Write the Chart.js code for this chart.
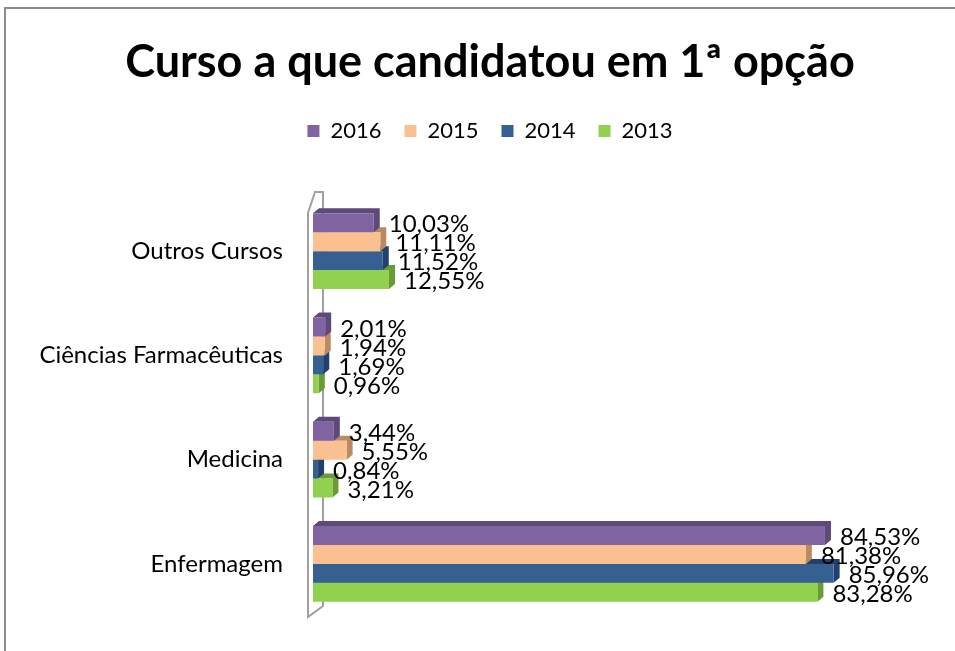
<!DOCTYPE html>
<html>
<head>
<meta charset="utf-8">
<script src="https://cdn.jsdelivr.net/npm/chart.js@4"></script>
<style>
  html, body { margin: 0; padding: 0; background: #fff; }
  #wrap { width: 955px; height: 651px; }
</style>
</head>
<body>
<div id="wrap"><canvas id="myChart" width="955" height="651"></canvas></div>
<script>
var cursos = ["Outros Cursos", "Ciências Farmacêuticas", "Medicina", "Enfermagem"];
var anos = ["2016", "2015", "2014", "2013"];
var valores2016 = [10.03, 2.01, 3.44, 84.53];
var valores2015 = [11.11, 1.94, 5.55, 81.38];
var valores2014 = [11.52, 1.69, 0.84, 85.96];
var valores2013 = [12.55, 0.96, 3.21, 83.28];

var frontColors = ["#8064A2", "#FAC090", "#376092", "#92D050"];
var sideColors = ["#5E4A78", "#B98B62", "#22406A", "#6A9C36"];
var FONT = "Lato, 'Noto Sans', sans-serif";

function fmt(v) {
  return v.toFixed(2).replace(".", ",") + "%";
}

// moldura, parede 3D e faces laterais das barras
var frame3d = {
  id: "frame3d",
  beforeDraw(chart) {
    var ctx = chart.ctx;
    ctx.save();
    ctx.strokeStyle = "#8c8c8c";
    ctx.lineWidth = 2;
    ctx.beginPath();
    ctx.moveTo(5, 651);
    ctx.lineTo(5, 8);
    ctx.lineTo(955, 8);
    ctx.stroke();
    ctx.restore();
  },
  beforeDatasetsDraw(chart) {
    var ctx = chart.ctx;
    var a = chart.chartArea;
    ctx.save();
    ctx.strokeStyle = "#a0a0a0";
    ctx.lineWidth = 2;
    ctx.beginPath();
    ctx.moveTo(a.left - 5, a.top + 14);
    ctx.lineTo(a.left + 2, a.top - 7);
    ctx.lineTo(a.left + 10, a.top - 7);
    ctx.lineTo(a.left + 10, a.bottom - 10);
    ctx.lineTo(a.left - 5, a.bottom + 1);
    ctx.closePath();
    ctx.stroke();

    var dx = 6, dy = 5;
    for (var d = chart.data.datasets.length - 1; d >= 0; d--) {
      var meta = chart.getDatasetMeta(d);
      ctx.fillStyle = sideColors[d];
      meta.data.forEach(function (bar) {
        var x0 = bar.base, x1 = bar.x;
        var yt = bar.y - bar.height / 2, yb = bar.y + bar.height / 2;
        ctx.beginPath();
        ctx.moveTo(x0, yt);
        ctx.lineTo(x0 + dx, yt - dy);
        ctx.lineTo(x1 + dx, yt - dy);
        ctx.lineTo(x1 + dx, yb - dy);
        ctx.lineTo(x1, yb);
        ctx.lineTo(x1, yt);
        ctx.closePath();
        ctx.fill();
      });
    }
    ctx.restore();
  },
  afterDatasetsDraw(chart) {
    var ctx = chart.ctx;
    ctx.save();
    ctx.font = "24px " + FONT;
    ctx.fillStyle = "#000";
    ctx.textAlign = "left";
    ctx.textBaseline = "middle";
    chart.data.datasets.forEach(function (ds, d) {
      chart.getDatasetMeta(d).data.forEach(function (bar, i) {
        ctx.fillText(fmt(ds.data[i]), bar.x + 15, bar.y + 2);
      });
    });
    ctx.restore();
  }
};

new Chart("myChart", {
  type: "bar",
  data: {
    labels: cursos,
    datasets: [
      { label: anos[0], data: valores2016, backgroundColor: frontColors[0] },
      { label: anos[1], data: valores2015, backgroundColor: frontColors[1] },
      { label: anos[2], data: valores2014, backgroundColor: frontColors[2] },
      { label: anos[3], data: valores2013, backgroundColor: frontColors[3] },
    ],
  },
  options: {
    indexAxis: "y",
    responsive: false,
    animation: false,
    categoryPercentage: 0.727,
    barPercentage: 1.0,
    layout: { padding: { left: 25, right: 0, top: 0, bottom: 35 } },
    scales: {
      x: {
        position: "top",
        min: 0,
        max: 106,
        ticks: { display: false },
        grid: { display: false, drawTicks: false },
        border: { display: false },
        afterFit: function (s) { s.height = 47; },
      },
      y: {
        ticks: { color: "#000", padding: 30, font: { family: FONT, size: 24 } },
        grid: { display: false, drawTicks: false },
        border: { display: false },
        afterFit: function (s) {
          s.width = 288;
          s.paddingTop = 0;
          s.paddingBottom = 0;
        },
      },
    },
    plugins: {
      title: {
        display: true,
        text: "Curso a que candidatou em 1ª opção",
        color: "#000",
        font: { family: FONT, size: 45, weight: "bold" },
        padding: { top: 35, bottom: 8 },
      },
      legend: {
        labels: {
          color: "#000",
          boxWidth: 12,
          boxHeight: 12,
          padding: 23,
          font: { family: FONT, size: 22 },
        },
      },
      tooltip: { enabled: false },
    },
  },
  plugins: [frame3d],
});
</script>
</body>
</html>
